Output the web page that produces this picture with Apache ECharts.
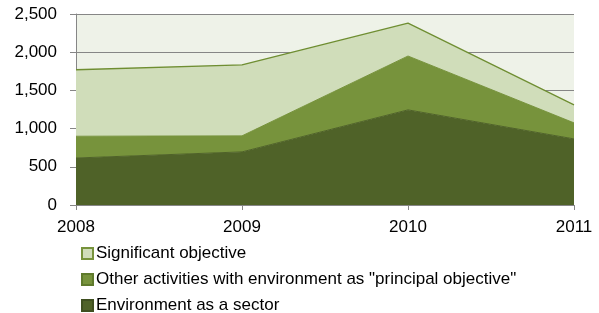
<!DOCTYPE html>
<html><head><meta charset="utf-8">
<script src="https://cdn.jsdelivr.net/npm/echarts@6/dist/echarts.min.js"></script>
<style>html,body{margin:0;padding:0;background:#fff}#c{width:599px;height:313px}</style>
</head><body><div id="c"></div>
<script>
const years = ['2008', '2009', '2010', '2011'];
const sectorVals = [615, 695, 1245, 865];
const principalVals = [285, 210, 705, 210];
const significantVals = [870, 930, 430, 235];
const yTicks = [0, 500, 1000, 1500, 2000, 2500];
const names = ['Environment as a sector', 'Other activities with environment as "principal objective"', 'Significant objective'];

const font = 'Liberation Sans';
const chart = echarts.init(document.getElementById('c'), null, {renderer: 'canvas'});
chart.setOption({
  animation: false,
  textStyle: {fontFamily: font},
  grid: {left: 76, right: 25, top: 14, bottom: 108, show: true, backgroundColor: '#EEF2E8', borderWidth: 0},
  xAxis: {
    type: 'category', data: years, boundaryGap: false,
    axisLine: {lineStyle: {color: '#868686'}},
    axisTick: {show: true, alignWithLabel: true, length: 5, lineStyle: {color: '#868686'}},
    axisLabel: {color: '#000', fontSize: 17, fontFamily: font, margin: 14}
  },
  yAxis: {
    type: 'value', min: yTicks[0], max: yTicks[yTicks.length - 1], interval: 500,
    axisLine: {show: true, lineStyle: {color: '#868686'}},
    axisTick: {show: true, length: 6, lineStyle: {color: '#868686'}},
    splitLine: {lineStyle: {color: '#868686', width: 1}},
    axisLabel: {color: '#000', fontSize: 17, fontFamily: font, margin: 19,
      formatter: v => v.toLocaleString('en-US')}
  },
  legend: {
    orient: 'vertical', left: 81, top: 245, height: 120, padding: 0,
    itemWidth: 11, itemHeight: 11, itemGap: 9,
    icon: 'rect',
    data: [names[2], names[1], names[0]],
    textStyle: {color: '#000', fontSize: 17, fontFamily: font, padding: [0, 0, 0, -2]}
  },
  series: [
    {name: names[0], type: 'line', stack: 'a', data: sectorVals, symbol: 'none',
      lineStyle: {color: '#4F6228', width: 1}, itemStyle: {color: '#4F6228', borderColor: '#3F4F20', borderWidth: 1},
      areaStyle: {color: '#4F6228', opacity: 1}},
    {name: names[1], type: 'line', stack: 'a', data: principalVals, symbol: 'none',
      lineStyle: {color: '#77933C', width: 1}, itemStyle: {color: '#77933C', borderColor: '#5F7A2C', borderWidth: 1},
      areaStyle: {color: '#77933C', opacity: 1}},
    {name: names[2], type: 'line', stack: 'a', data: significantVals, symbol: 'none',
      lineStyle: {color: '#6F8E32', width: 1.3}, itemStyle: {color: '#D0DDBA', borderColor: '#77933C', borderWidth: 1},
      areaStyle: {color: '#D0DDBA', opacity: 1}}
  ]
});
</script></body></html>
